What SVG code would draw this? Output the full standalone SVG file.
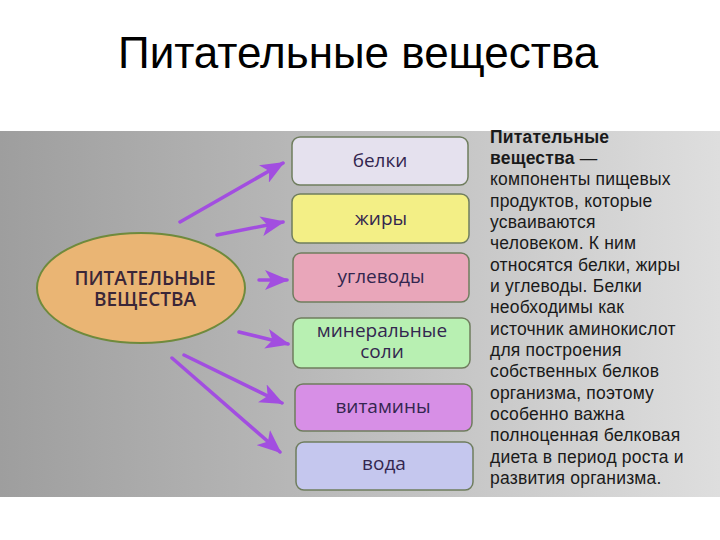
<svg xmlns="http://www.w3.org/2000/svg" width="720" height="540" viewBox="0 0 720 540">
<defs>
<linearGradient id="bg" x1="0" y1="0" x2="1" y2="0">
<stop offset="0" stop-color="#9e9e9e"/>
<stop offset="0.45" stop-color="#bababa"/>
<stop offset="1" stop-color="#dedede"/>
</linearGradient>
<marker id="ah" markerUnits="userSpaceOnUse" markerWidth="24" markerHeight="20" refX="22" refY="10" orient="auto">
<path d="M0,0 L24,10 L0,20 L6,10 Z" fill="#a24ee0"/>
</marker>
</defs>
<style>
.title{font-family:"Liberation Sans",Arial,sans-serif;font-size:44px;fill:#000}
.box{stroke:#6f7d5e;stroke-width:1.5}
.lbl{font-family:"Open Sans","Noto Sans",sans-serif;font-size:19px;font-weight:500;fill:#33264f;text-anchor:middle}
.ctr{font-family:"Open Sans","Noto Sans",sans-serif;font-size:19px;font-weight:600;fill:#3a2638;text-anchor:middle}
.conn{stroke:#a24ee0;stroke-width:3.5;fill:none;stroke-linecap:round}
.desc{font-family:"Liberation Sans",Arial,sans-serif;font-size:17.5px;letter-spacing:0.2px;fill:#1a1a1a}
</style>
<rect width="720" height="540" fill="#fff"/>
<text class="title" x="118" y="68">Питательные вещества</text>
<rect x="0" y="131" width="720" height="366" fill="url(#bg)"/>
<g id="center">
<ellipse cx="141" cy="288" rx="104" ry="55" fill="#eab574" stroke="#6f8a3c" stroke-width="2"/>
<text class="ctr"><tspan x="145" y="285">ПИТАТЕЛЬНЫЕ</tspan><tspan x="145" y="306">ВЕЩЕСТВА</tspan></text>
</g>
<g id="connectors">
<path class="conn" d="M180,222 L283,163" marker-end="url(#ah)"/>
<path class="conn" d="M217,235 L283,222" marker-end="url(#ah)"/>
<path class="conn" d="M259,280 L287,280" marker-end="url(#ah)"/>
<path class="conn" d="M239,332 L288,344" marker-end="url(#ah)"/>
<path class="conn" d="M184,355 L282,403" marker-end="url(#ah)"/>
<path class="conn" d="M172,358 L280,452" marker-end="url(#ah)"/>
</g>
<g id="belki"><rect class="box" x="292" y="137" width="176" height="48" rx="8" fill="#e5e1ee"/><text class="lbl" x="380" y="167">белки</text></g>
<g id="zhiry"><rect class="box" x="292" y="194" width="177" height="49" rx="8" fill="#f3ef86"/><text class="lbl" x="381" y="225">жиры</text></g>
<g id="uglevody"><rect class="box" x="293" y="253" width="176" height="49" rx="8" fill="#e9a6ba"/><text class="lbl" x="381" y="283">углеводы</text></g>
<g id="mineraly"><rect class="box" x="293" y="318" width="177" height="50" rx="8" fill="#b8f0b2"/><text class="lbl"><tspan x="382" y="337">минеральные</tspan><tspan x="382" y="358">соли</tspan></text></g>
<g id="vitaminy"><rect class="box" x="295" y="384" width="177" height="47" rx="8" fill="#d78fe6"/><text class="lbl" x="383" y="413">витамины</text></g>
<g id="voda"><rect class="box" x="296" y="442" width="177" height="48" rx="8" fill="#c5c7ee"/><text class="lbl" x="384" y="470">вода</text></g>
<g id="description">
<text class="desc" x="490" y="143" font-weight="bold">Питательные</text>
<text class="desc" x="490" y="164"><tspan font-weight="bold">вещества</tspan> —</text>
<text class="desc" x="490" y="185">компоненты пищевых</text>
<text class="desc" x="490" y="207">продуктов, которые</text>
<text class="desc" x="490" y="228">усваиваются</text>
<text class="desc" x="490" y="249">человеком. К ним</text>
<text class="desc" x="490" y="271">относятся белки, жиры</text>
<text class="desc" x="490" y="292">и углеводы. Белки</text>
<text class="desc" x="490" y="313">необходимы как</text>
<text class="desc" x="490" y="335">источник аминокислот</text>
<text class="desc" x="490" y="356">для построения</text>
<text class="desc" x="490" y="377">собственных белков</text>
<text class="desc" x="490" y="399">организма, поэтому</text>
<text class="desc" x="490" y="420">особенно важна</text>
<text class="desc" x="490" y="441">полноценная белковая</text>
<text class="desc" x="490" y="463">диета в период роста и</text>
<text class="desc" x="490" y="484">развития организма.</text>
</g>
</svg>
